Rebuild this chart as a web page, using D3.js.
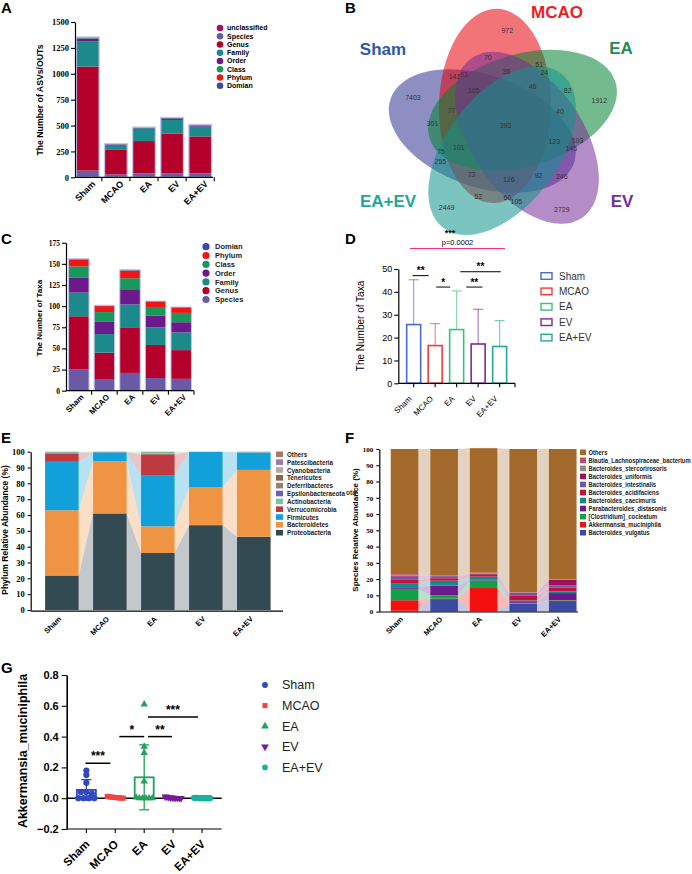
<!DOCTYPE html>
<html><head><meta charset="utf-8">
<script src="https://cdn.jsdelivr.net/npm/d3@7"></script>
<style>body{margin:0;background:#fff}svg{display:block}</style>
</head><body>
<svg id="chart" width="692" height="874"></svg>
<script>
// ================= DATA =================
const groups = ["Sham","MCAO","EA","EV","EA+EV"];

// Panel A — number of ASVs/OTUs per taxonomic level
const aLevels = ["Species","Genus","Family","Order","Class","Phylum","Domian","unclassified"];
const aSpecies = [65, 28, 38, 38, 38];
const aGenus = [1005, 242, 312, 382, 357];
const aFamily = [245, 45, 124, 134, 95];
const aOrder = [25, 6, 6, 16, 12];
const aClass = [5, 2, 2, 3, 3];
const aPhylum = [3, 1, 1, 1, 1];
const aDomian = [1, 0, 0, 0, 0];
const aUnclassified = [6, 1, 2, 4, 4];
const aTicks = [0, 250, 500, 750, 1000, 1250, 1500];
const aLegend = ["unclassified","Species","Genus","Family","Order","Class","Phylum","Domian"];

// Panel B — five-set Venn (sets listed clockwise from the top)
const vennOrder = ["MCAO","EA","EV","EA+EV","Sham"];
const vennRegions = ["Sham","MCAO","EA","EV","EA+EV",
 "Sham&MCAO","MCAO&EA","EA&EV","EV&EA+EV","EA+EV&Sham",
 "MCAO&EV","EA&EA+EV","EV&Sham","EA+EV&MCAO","Sham&EA",
 "Sham&MCAO&EV","MCAO&EA&EA+EV","EA&EV&Sham","EV&EA+EV&MCAO","EA+EV&Sham&EA",
 "Sham&MCAO&EA","MCAO&EA&EV","EA&EV&EA+EV","EV&EA+EV&Sham","EA+EV&Sham&MCAO",
 "Sham&MCAO&EA&EV","MCAO&EA&EV&EA+EV","Sham&EA&EV&EA+EV","Sham&MCAO&EV&EA+EV","Sham&MCAO&EA&EA+EV",
 "Sham&MCAO&EA&EV&EA+EV"];
const vennCounts = [7403, 972, 1912, 2729, 2449,
 141, 51, 103, 105, 255,
 70, 82, 246, 52, 301,
 63, 24, 145, 60, 75,
 77, 36, 40, 92, 73,
 105, 46, 123, 126, 101,
 393];

// Panel C — number of taxa per level
const cLevels = ["Species","Genus","Family","Order","Class","Phylum","Domian"];
const cSpecies = [25, 13, 21, 15, 14];
const cGenus = [63, 32, 54, 39, 34];
const cFamily = [28, 22, 27, 21, 21];
const cOrder = [18, 15, 18, 14, 12];
const cClass = [13, 11, 13, 10, 11];
const cPhylum = [8, 7, 9, 6, 6];
const cDomian = [1, 1, 1, 1, 1];
const cTicks = [0, 25, 50, 75, 100, 125, 150, 175];
const cLegend = ["Domian","Phylum","Class","Order","Family","Genus","Species"];

// Panel D — mean (SD) number of taxa
const dMean = [25.7, 16.5, 23.5, 17.2, 16.1];
const dSD = [19.6, 9.6, 16.9, 15.2, 11.3];
const dTicks = [0, 10, 20, 30, 40, 50];
const dSig = [[-0.05, 0.7, 47.1, "**"], [1.05, 1.7, 42.1, "*"], [2.45, 3.2, 42.1, "**"], [2.17, 4.05, 48.8, "**"]];
const dSigMain = [-0.17, 4.25, 59, "***", "p=0.0002"];

// Panel E — phylum relative abundance (%)
const phyla = ["Proteobacteria","Bacteroidetes","Firmicutes","Verrucomicrobia","Actinobacteria","Epsilonbacteraeota","Deferribacteres","Tenericutes","Cyanobacteria","Patescibacteria","Others"];
const eProteobacteria = [21.8, 61.0, 36.0, 53.6, 46.3];
const eBacteroidetes = [41.2, 33.0, 16.8, 24.0, 42.2];
const eFirmicutes = [30.6, 5.6, 32.0, 22.2, 11.0];
const eVerrucomicrobia = [5.4, 0.1, 13.6, 0.05, 0.05];
const eActinobacteria = [0.7, 0.1, 1.4, 0.05, 0.3];
const eEpsilonbacteraeota = [0.1, 0.05, 0.05, 0.02, 0.05];
const eDeferribacteres = [0.05, 0.05, 0.05, 0.02, 0.02];
const eTenericutes = [0.05, 0.03, 0.03, 0.02, 0.02];
const eCyanobacteria = [0.04, 0.03, 0.03, 0.02, 0.02];
const ePatescibacteria = [0.02, 0.02, 0.02, 0.01, 0.01];
const eOthers = [0.04, 0.02, 0.02, 0.01, 0.03];
const pctTicks = [0, 10, 20, 30, 40, 50, 60, 70, 80, 90, 100];

// Panel F — species relative abundance (%)
const species = ["Bacteroides_vulgatus","Akkermansia_muciniphila","[Clostridium]_cocleatum","Parabacteroides_distasonis","Bacteroides_caecimuris","Bacteroides_acidifaciens","Bacteroides_intestinalis","Bacteroides_uniformis","Bacteroides_stercorirosoris","Blautia_Lachnospiraceae_bacterium","Others"];
const fVulgatus = [0.5, 7.7, 0.3, 4.8, 6.5];
const fAkkermansia = [6.5, 0.3, 14.2, 0.3, 0.3];
const fClostridium = [7.0, 2.0, 4.7, 0.3, 0.3];
const fParabacteroides = [1.0, 6.0, 0.3, 1.0, 4.3];
const fCaecimuris = [2.5, 3.0, 2.0, 0.5, 1.0];
const fAcidifaciens = [2.0, 1.5, 1.5, 2.8, 2.5];
const fIntestinalis = [2.0, 1.2, 0.3, 1.2, 1.2];
const fUniformis = [0.5, 0.2, 0.2, 0.5, 3.5];
const fStercorirosoris = [0.5, 0.1, 0.2, 0.3, 0.2];
const fBlautia = [0.5, 0.1, 0.3, 0.3, 0.2];
const fOthers = [77.0, 77.9, 76.5, 88.0, 80.0];

// Panel G — Akkermansia_muciniphila per animal
const gSham = [0.18, 0.15, 0.10, 0.04, 0.04, 0.03, 0, 0, 0, 0];
const gMCAO = [0.012, 0.01, 0.008, 0.006, 0.005, 0.004, 0.003, 0.002, 0.001, 0];
const gEA = [0.61, 0.335, 0.295, 0.11, 0.005, 0, 0, 0, 0, 0];
const gEV = [0.01, 0.008, 0.006, 0.004, 0.003, 0.002, 0.001, 0.001, 0, 0];
const gEAEV = [0.003, 0.002, 0.002, 0.001, 0.001, 0, 0, 0, 0, 0];
const gTicks = [-0.2, 0.0, 0.2, 0.4, 0.6, 0.8];
const gSig = [[-0.03, 0.83, 0.227, "***"], [1.14, 2.0, 0.40, "*"], [2.13, 2.96, 0.40, "**"], [2.13, 3.86, 0.528, "***"]];

// ================= STYLE =================
const SANS = "Liberation Sans, Arial, Helvetica, sans-serif";
const SERIF = "Liberation Serif, Times New Roman, serif";
const levelColor = {Species:"#6a5aa6", Genus:"#b5002c", Family:"#1c8a8a", Order:"#6a1a8a", Class:"#18985a", Phylum:"#f01414", Domian:"#3b4a9e", unclassified:"#a3105c"};
const groupColor = ["#4a68d8","#f03c3c","#3cbf78","#7a2aa0","#22a89a"];
const gColor = ["#3048c0","#f04545","#24a05c","#7a1a9a","#1ab0a2"];
const phylumColor = {Proteobacteria:"#344a52", Bacteroidetes:"#ee9443", Firmicutes:"#12a0da", Verrucomicrobia:"#bf3a40", Actinobacteria:"#7cc4a0", Epsilonbacteraeota:"#6e60b0", Deferribacteres:"#8c8878", Tenericutes:"#8b6347", Cyanobacteria:"#b8a8a0", Patescibacteria:"#9d7d9e", Others:"#a87860"};
const speciesColor = {"Bacteroides_vulgatus":"#3a4aa0","Akkermansia_muciniphila":"#f51010","[Clostridium]_cocleatum":"#12a04a","Parabacteroides_distasonis":"#6a1a8a","Bacteroides_caecimuris":"#108a8a","Bacteroides_acidifaciens":"#c4103a","Bacteroides_intestinalis":"#6a5aa8","Bacteroides_uniformis":"#a0105a","Bacteroides_stercorirosoris":"#8c8c8c","Blautia_Lachnospiraceae_bacterium":"#c24d6a","Others":"#a3692a"};
const vennColor = {Sham:"#303190", MCAO:"#e7020b", EA:"#008333", EV:"#772e97", "EA+EV":"#11948c"};
const vennTitleColor = {Sham:"#2f58a5", MCAO:"#ee1c25", EA:"#1f8c56", EV:"#7030a0", "EA+EV":"#1ea69d"};

const svg = d3.select("#chart");
svg.append("rect").attr("width",692).attr("height",874).attr("fill","#fff");

function label(t,x,y,size,opts={}){
  return svg.append("text").attr("x",x).attr("y",y).text(t)
    .attr("font-family",opts.font||SANS).attr("font-size",size)
    .attr("font-weight",opts.weight||"normal").attr("fill",opts.fill||"#000")
    .attr("text-anchor",opts.anchor||"start");
}
function panelLabel(t,x,y){ label(t,x,y,15,{weight:"bold"}); }
function vTitle(t,x,yc,size,weight){
  svg.append("text").attr("transform",`translate(${x},${yc}) rotate(-90)`)
    .attr("text-anchor","middle").attr("font-family",SANS).attr("font-size",size)
    .attr("font-weight",weight).text(t);
}
function styleAxis(g,font,size,weight){
  g.attr("font-family",font).attr("font-size",size).attr("font-weight",weight);
  g.select(".domain").attr("stroke","#000").attr("stroke-width",1.2);
  g.selectAll(".tick line").attr("stroke","#000").attr("stroke-width",1.1);
  g.selectAll(".tick text").attr("fill","#000");
}
function rotLabels(xs,y0,opts){
  svg.append("g").selectAll("text").data(groups).enter().append("text")
    .attr("transform",(d,i)=>`translate(${xs(d,i)+opts.dx},${y0+opts.dy}) rotate(-45)`)
    .attr("text-anchor","end").attr("dy","0.35em")
    .attr("font-family",opts.font||SANS).attr("font-size",opts.size)
    .attr("font-weight",opts.weight||"bold").attr("fill","#000").text(d=>d);
}
function rows(keys,arrs){ return groups.map((g,i)=>{const r={group:g}; keys.forEach((k,j)=>r[k]=arrs[j][i]); return r;}); }
function drawStack(series,x,y,colorOf){
  series.forEach(s=>{
    svg.append("g").selectAll("rect").data(s).enter().append("rect")
      .attr("x",d=>x(d.data.group)).attr("width",x.bandwidth())
      .attr("y",d=>y(d[1])).attr("height",d=>Math.max(0,y(d[0])-y(d[1])))
      .attr("fill",colorOf(s.key));
  });
}
function drawFlows(series,x,y,colorOf){
  series.forEach(s=>{
    for(let i=0;i<s.length-1;i++){
      const a=s[i], b=s[i+1], xa=x(a.data.group)+x.bandwidth(), xb=x(b.data.group);
      svg.append("polygon")
        .attr("points",[[xa,y(a[1])],[xb,y(b[1])],[xb,y(b[0])],[xa,y(a[0])]].map(p=>p.join(",")).join(" "))
        .attr("fill",colorOf(s.key)).attr("fill-opacity",0.3);
    }
  });
}
function catAxisX(y0,x0,x1,tickAt){
  const g=svg.append("g");
  g.append("line").attr("x1",x0).attr("x2",x1).attr("y1",y0).attr("y2",y0).attr("stroke","#000").attr("stroke-width",1.2);
  tickAt.forEach(t=>g.append("line").attr("x1",t).attr("x2",t).attr("y1",y0).attr("y2",y0+4).attr("stroke","#000").attr("stroke-width",1.1));
}

// ================= PANEL A =================
panelLabel("A",1,13);
{
  const x=d3.scaleBand().domain(groups).range([75,213]).paddingInner(0.19).paddingOuter(0.05);
  const y=d3.scaleLinear().domain([0,1500]).range([177.3,22]);
  const ser=d3.stack().keys(aLevels)(rows(aLevels,[aSpecies,aGenus,aFamily,aOrder,aClass,aPhylum,aDomian,aUnclassified]));
  drawStack(ser,x,y,k=>levelColor[k]);
  const top=ser[ser.length-1];
  svg.append("g").selectAll("rect").data(top).enter().append("rect")
    .attr("x",d=>x(d.data.group)).attr("width",x.bandwidth()).attr("y",d=>y(d[1])).attr("height",d=>y(0)-y(d[1]))
    .attr("fill","none").attr("stroke","#c4c6ea").attr("stroke-width",1.3);
  const ga=svg.append("g").attr("transform","translate(75,0)").call(d3.axisLeft(y).tickValues(aTicks).tickFormat(d3.format("d")).tickSize(4).tickPadding(2).tickSizeOuter(0));
  styleAxis(ga,SERIF,8.5,"bold");
  const gap=x.step()-x.bandwidth();
  catAxisX(177.3,75,213,groups.map(g=>x(g)+x.bandwidth()+gap/2));
  rotLabels((d)=>x(d)+x.bandwidth()/2,177.3,{dx:6,dy:5,size:9});
  vTitle("The Number of ASVs/OUTs",43,100,8.7,"bold");
  const lg=svg.append("g").selectAll("g").data(aLegend).enter().append("g").attr("transform",(d,i)=>`translate(220,${28+i*8.25})`);
  lg.append("circle").attr("r",3.3).attr("fill",d=>levelColor[d]);
  lg.append("text").attr("x",7).attr("dy","0.35em").attr("font-family",SANS).attr("font-size",7).attr("font-weight","bold").text(d=>d);
}

// ================= PANEL B (Venn) =================
panelLabel("B",345,13);
{
  // symmetric five-ellipse layout: each ellipse is the previous one turned by 72°
  const ellC=[505.75,127.11], lobe0=-76.58, shiftTurn=-40.67, shift=23.8, tilt=-12.05, rx=97.14, ry=55.89;
  const ell=vennOrder.map((n,k)=>{const ph=(lobe0+72*k)*Math.PI/180, b=ph+shiftTurn*Math.PI/180;
    return {name:n, cx:ellC[0]+shift*Math.cos(b), cy:ellC[1]+shift*Math.sin(b), deg:lobe0+72*k+tilt};});
  const drawOrder=["Sham","MCAO","EA","EV","EA+EV"];
  svg.append("g").selectAll("ellipse").data(drawOrder.map(n=>ell.find(e=>e.name===n))).enter().append("ellipse")
    .attr("transform",d=>`translate(${d.cx},${d.cy}) rotate(${d.deg})`)
    .attr("rx",rx).attr("ry",ry).attr("fill",d=>vennColor[d.name]).attr("fill-opacity",0.55);
  // label anchor rule per region type: [radius, angle offset] around the pattern centre
  const C=[505.6,129], theta0=-89;
  const layout={single:[98,0], pairNear:[72.9,26.5], pairFar:[73.3,-15], tripleSplit:[68.5,33.4], tripleRun:[57,-0.3], quad:[50.3,31.4]};
  function regionPos(names){
    const S=names.map(n=>vennOrder.indexOf(n)); const has=k=>S.includes(((k%5)+5)%5);
    if(S.length===5) return [C[0],C[1]-3];
    let type,k;
    if(S.length===1){type="single";k=S[0];}
    else if(S.length===2){k=S.find(s=>has(s+1)); if(k!==undefined)type="pairNear"; else {type="pairFar";k=S.find(s=>has(s+2));}}
    else if(S.length===3){k=S.find(s=>has(s+1)&&has(s+2)); if(k!==undefined)type="tripleRun"; else {type="tripleSplit";k=S.find(s=>has(s+1)&&has(s+3));}}
    else {const m=[0,1,2,3,4].find(i=>!has(i)); type="quad"; k=(m+1)%5;}
    const [r,dd]=layout[type], a=(theta0+72*k+dd)*Math.PI/180;
    return [C[0]+r*Math.cos(a), C[1]+r*Math.sin(a)];
  }
  svg.append("g").selectAll("text").data(vennRegions).enter().append("text")
    .attr("x",d=>regionPos(d.split("&"))[0]).attr("y",d=>regionPos(d.split("&"))[1])
    .attr("dy","0.35em").attr("text-anchor","middle").attr("font-family",SANS).attr("font-size",7)
    .attr("fill","#333").text((d,i)=>vennCounts[i]);
  const titlePos={MCAO:[557,18],Sham:[383,55],EA:[621,54],"EA+EV":[388,207],EV:[622,207]};
  vennOrder.forEach(n=>label(n,titlePos[n][0],titlePos[n][1],17,{weight:"bold",anchor:"middle",fill:vennTitleColor[n]}));
}

// ================= PANEL C =================
panelLabel("C",1,244);
{
  const x=d3.scaleBand().domain(groups).range([66,194]).paddingInner(0.2).paddingOuter(0.1);
  const y=d3.scaleLinear().domain([0,175]).range([390.7,242.7]);
  const ser=d3.stack().keys(cLevels)(rows(cLevels,[cSpecies,cGenus,cFamily,cOrder,cClass,cPhylum,cDomian]));
  drawStack(ser,x,y,k=>levelColor[k]);
  const top=ser[ser.length-1];
  svg.append("g").selectAll("rect").data(top).enter().append("rect")
    .attr("x",d=>x(d.data.group)).attr("width",x.bandwidth()).attr("y",d=>y(d[1])).attr("height",d=>y(0)-y(d[1]))
    .attr("fill","none").attr("stroke","#c4c6ea").attr("stroke-width",1);
  const ga=svg.append("g").attr("transform","translate(66,0)").call(d3.axisLeft(y).tickValues(cTicks).tickSize(4).tickPadding(2).tickSizeOuter(0));
  styleAxis(ga,SERIF,7.5,"bold");
  const gap=x.step()-x.bandwidth();
  catAxisX(390.7,66,194,groups.map(g=>x(g)+x.bandwidth()+gap/2));
  rotLabels((d)=>x(d)+x.bandwidth()/2,390.7,{dx:3.5,dy:5,size:8});
  vTitle("The Number of Taxa",42,318,8,"bold");
  const lg=svg.append("g").selectAll("g").data(cLegend).enter().append("g").attr("transform",(d,i)=>`translate(206,${246.7+i*8.8})`);
  lg.append("circle").attr("r",3.6).attr("fill",d=>levelColor[d]);
  lg.append("text").attr("x",9).attr("dy","0.35em").attr("font-family",SANS).attr("font-size",7.5).attr("font-weight","bold").attr("fill","#222").text(d=>d);
}

// ================= PANEL D =================
panelLabel("D",345,244);
{
  const x=d3.scaleBand().domain(groups).range([398.3,515]).paddingInner(0.35).paddingOuter(0.39);
  const y=d3.scaleLinear().domain([0,50]).range([383.3,269]);
  const cx=i=>x(groups[0])+x.bandwidth()/2+i*x.step();
  groups.forEach((g,i)=>{
    const xc=cx(i), top=y(dMean[i]+dSD[i]);
    svg.append("line").attr("x1",xc).attr("x2",xc).attr("y1",y(dMean[i])).attr("y2",top).attr("stroke",groupColor[i]).attr("stroke-opacity",0.65).attr("stroke-width",1.1);
    svg.append("line").attr("x1",xc-5).attr("x2",xc+5).attr("y1",top).attr("y2",top).attr("stroke",groupColor[i]).attr("stroke-opacity",0.65).attr("stroke-width",1.1);
  });
  svg.append("g").selectAll("rect").data(dMean).enter().append("rect")
    .attr("x",(d,i)=>x(groups[i])).attr("width",x.bandwidth()).attr("y",d=>y(d)).attr("height",d=>y(0)-y(d))
    .attr("fill","#fff").attr("stroke",(d,i)=>groupColor[i]).attr("stroke-width",1.6);
  const ga=svg.append("g").attr("transform","translate(398.3,0)").call(d3.axisLeft(y).tickValues(dTicks).tickSize(4).tickPadding(2).tickSizeOuter(0));
  styleAxis(ga,SANS,9,"normal");
  catAxisX(383.3,398.3,515,groups.map((g,i)=>cx(i)).concat([515]));
  rotLabels((d,i)=>cx(i),383.3,{dx:-3.5,dy:14,size:8,weight:"normal"});
  vTitle("The Number of Taxa",364,326,10,"normal");
  dSig.forEach(s=>{
    const x1=cx(s[0]), x2=cx(s[1]), yy=y(s[2]);
    svg.append("line").attr("x1",x1).attr("x2",x2).attr("y1",yy).attr("y2",yy).attr("stroke","#000").attr("stroke-width",1);
    label(s[3],(x1+x2)/2,yy-1.5,10,{anchor:"middle",weight:"bold"});
  });
  {
    const x1=cx(dSigMain[0]), x2=cx(dSigMain[1]), yy=y(dSigMain[2]);
    svg.append("line").attr("x1",x1).attr("x2",x2).attr("y1",yy).attr("y2",yy).attr("stroke","#ff2a88").attr("stroke-width",1.1);
    label(dSigMain[3],450,236,9,{anchor:"middle",weight:"bold"});
    label(dSigMain[4],457.5,244.5,7.5,{anchor:"middle"});
  }
  const lg=svg.append("g").selectAll("g").data(groups).enter().append("g").attr("transform",(d,i)=>`translate(541,${276+i*15.4})`);
  lg.append("rect").attr("x",0).attr("y",-3.3).attr("width",11).attr("height",6.6).attr("fill","none").attr("stroke",(d,i)=>groupColor[i]).attr("stroke-width",1.4);
  lg.append("text").attr("x",18).attr("dy","0.35em").attr("font-family",SANS).attr("font-size",10).attr("fill","#333").text(d=>d);
}

// ================= PANEL E =================
panelLabel("E",1,443);
{
  const x=d3.scaleBand().domain(groups).range([30.7,285]).paddingInner(0.3).paddingOuter(0.3);
  const y=d3.scaleLinear().domain([0,100]).range([610,451.7]);
  const ser=d3.stack().keys(phyla)(rows(phyla,[eProteobacteria,eBacteroidetes,eFirmicutes,eVerrucomicrobia,eActinobacteria,eEpsilonbacteraeota,eDeferribacteres,eTenericutes,eCyanobacteria,ePatescibacteria,eOthers]));
  drawFlows(ser,x,y,k=>phylumColor[k]);
  drawStack(ser,x,y,k=>phylumColor[k]);
  const ga=svg.append("g").attr("transform","translate(30.7,0)").call(d3.axisLeft(y).tickValues(pctTicks).tickSize(3).tickPadding(3).tickSizeOuter(0));
  styleAxis(ga,SERIF,8.5,"bold");
  catAxisX(611.2,30.7,283,[]);
  rotLabels((d)=>x(d)+x.bandwidth()/2,611.7,{dx:-2,dy:6,size:7.5});
  vTitle("Phylum Relative Abundance (%)",8,530,8.5,"bold");
  const lg=svg.append("g").selectAll("g").data(phyla.slice().reverse()).enter().append("g").attr("transform",(d,i)=>`translate(276,${454.3+i*7.84})`);
  lg.append("rect").attr("y",-2.8).attr("width",7).attr("height",5.6).attr("fill",d=>phylumColor[d]);
  lg.append("text").attr("x",11/0.84).attr("transform","scale(0.84,1)").attr("dy","0.35em").attr("font-family",SANS).attr("font-size",7.5).attr("font-weight","bold").attr("fill","#222").text(d=>d);
}

// ================= PANEL F =================
panelLabel("F",345,443);
label("ota",346,495,6.5,{weight:"bold",fill:"#333"});
{
  const x=d3.scaleBand().domain(groups).range([379.3,588]).paddingInner(0.3).paddingOuter(0.29);
  const y=d3.scaleLinear().domain([0,100]).range([611.6,449]);
  const ser=d3.stack().keys(species)(rows(species,[fVulgatus,fAkkermansia,fClostridium,fParabacteroides,fCaecimuris,fAcidifaciens,fIntestinalis,fUniformis,fStercorirosoris,fBlautia,fOthers]));
  drawFlows(ser,x,y,k=>speciesColor[k]);
  drawStack(ser,x,y,k=>speciesColor[k]);
  const ga=svg.append("g").attr("transform","translate(379.3,0)").call(d3.axisLeft(y).tickValues(pctTicks).tickSize(3).tickPadding(3).tickSizeOuter(0));
  styleAxis(ga,SERIF,7,"bold");
  catAxisX(612,379.3,578,[]);
  rotLabels((d)=>x(d)+x.bandwidth()/2,612,{dx:-3,dy:6,size:7.5});
  vTitle("Species Relative Abundance (%)",358,530,8,"bold");
  const lg=svg.append("g").selectAll("g").data(species.slice().reverse()).enter().append("g").attr("transform",(d,i)=>`translate(580,${452.3+i*8.04})`);
  lg.append("rect").attr("y",-2.8).attr("width",6).attr("height",5.6).attr("fill",d=>speciesColor[d]);
  lg.append("text").attr("x",8.5/0.84).attr("transform","scale(0.84,1)").attr("dy","0.35em").attr("font-family",SANS).attr("font-size",7).attr("font-weight","bold").attr("fill","#222").text(d=>d);
}

// ================= PANEL G =================
panelLabel("G",1,673);
{
  const gData=[gSham,gMCAO,gEA,gEV,gEAEV];
  const x=d3.scalePoint().domain(groups).range([66.7,221.7]).padding(0.68);
  const y=d3.scaleLinear().domain([-0.2,0.8]).range([829,675]);
  const ga=svg.append("g").attr("transform","translate(66.7,0)").call(d3.axisLeft(y).tickValues(gTicks).tickFormat(d3.format(".1f")).tickSize(5).tickPadding(3).tickSizeOuter(0));
  styleAxis(ga,SANS,11,"bold");
  ga.select(".domain").attr("stroke-width",1.6);
  catAxisX(829,66.7,221.7,groups.map(g=>x(g)));
  svg.append("line").attr("x1",66.7).attr("x2",221.7).attr("y1",y(0)).attr("y2",y(0)).attr("stroke","#000").attr("stroke-width",1.5);
  const bw=19;
  const syms=[d3.symbolCircle,d3.symbolSquare,d3.symbolTriangle,d3.symbolTriangle,d3.symbolCircle];
  gData.forEach((vals,i)=>{
    const m=d3.mean(vals), sd=d3.deviation(vals), xc=x(groups[i]), col=gColor[i];
    svg.append("rect").attr("x",xc-bw/2).attr("width",bw).attr("y",y(Math.max(m,0))).attr("height",Math.max(0.5,y(0)-y(m)))
      .attr("fill","none").attr("stroke",col).attr("stroke-width",1.8);
    [m+sd,m-sd].forEach(v=>{
      svg.append("line").attr("x1",xc).attr("x2",xc).attr("y1",y(m)).attr("y2",y(v)).attr("stroke",col).attr("stroke-width",1.3);
      svg.append("line").attr("x1",xc-5).attr("x2",xc+5).attr("y1",y(v)).attr("y2",y(v)).attr("stroke",col).attr("stroke-width",1.3);
    });
    const buckets=d3.group(vals.map((v,k)=>({v,k})),d=>Math.round(d.v/0.03));
    buckets.forEach(arr=>{
      const n=arr.length, sp=n>1?Math.min(5.5,16/(n-1)):0;
      arr.forEach((d,j)=>{
        const px=xc+(j-(n-1)/2)*sp, py=y(d.v);
        svg.append("path").attr("d",d3.symbol(syms[i],i===0||i===4?30:i===1?26:24)())
          .attr("transform",`translate(${px},${py})${i===3?" rotate(180)":""}`).attr("fill",col);
      });
    });
  });
  gSig.forEach(s=>{
    const x1=x(groups[0])+s[0]*x.step(), x2=x(groups[0])+s[1]*x.step(), yy=y(s[2]);
    svg.append("line").attr("x1",x1).attr("x2",x2).attr("y1",yy).attr("y2",yy).attr("stroke","#000").attr("stroke-width",1.5);
    label(s[3],(x1+x2)/2,yy-3,12,{anchor:"middle",weight:"bold"});
  });
  rotLabels((d)=>x(d),829,{dx:1,dy:13,size:11.5});
  vTitle("Akkermansia_muciniphila",27,751,12.5,"bold");
  const lg=svg.append("g").selectAll("g").data(groups).enter().append("g").attr("transform",(d,i)=>`translate(265,${685+i*20.6})`);
  lg.append("path").attr("d",(d,i)=>d3.symbol(syms[i],26)())
    .attr("transform",(d,i)=>i===3?"rotate(180)":null).attr("fill",(d,i)=>gColor[i]);
  lg.append("text").attr("x",17).attr("dy","0.35em").attr("font-family",SANS).attr("font-size",12.5).attr("fill","#222").text(d=>d);
}
</script>
</body></html>
